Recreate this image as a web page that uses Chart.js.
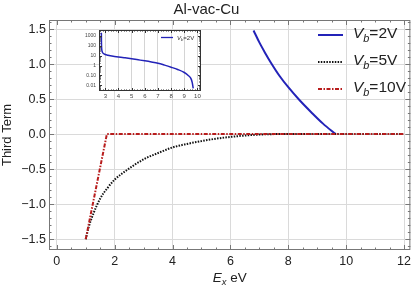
<!DOCTYPE html>
<html>
<head>
<meta charset="utf-8">
<script src="https://cdn.jsdelivr.net/npm/chart.js@4.4.1/dist/chart.umd.min.js"></script>
<style>
  html, body { margin: 0; padding: 0; background: #fff; }
  #wrap { position: relative; width: 415px; height: 291px; }
  #main { position: absolute; left: 0; top: 0; }
  #inset { position: absolute; left: 78px; top: 24px; }
</style>
</head>
<body>
<div id="wrap">
  <canvas id="main" width="415" height="291"></canvas>
  <canvas id="inset" width="128" height="78"></canvas>
</div>
<script>
// --- data ---
const energy2 = [6.8, 7.0, 7.2, 7.4, 7.7, 8.0, 8.4, 8.8, 9.2, 9.64];
const third2 = [1.48, 1.31, 1.16, 1.02, 0.83, 0.67, 0.48, 0.31, 0.15, 0];

const energy5 = [1, 1.1, 1.25, 1.5, 1.75, 2, 2.4, 3, 3.5, 4, 4.5, 5, 5.5, 6, 6.5, 7, 7.5, 12];
const third5 = [-1.5, -1.33, -1.15, -0.92, -0.77, -0.65, -0.52, -0.36, -0.27, -0.19, -0.14, -0.1, -0.065, -0.04, -0.02, -0.007, 0, 0];

const energy10 = [1, 1.73, 12];
const third10 = [-1.5, 0, 0];

// inset (log scale), Vb = 2V
const insetEnergy = [2.7, 2.705, 2.715, 2.73, 2.78, 2.9, 3.2, 3.6, 4, 4.5, 5, 5.5, 6, 6.5, 7, 7.5, 8, 8.5, 9, 9.3, 9.5, 9.6, 9.68];
const insetThird = [2100, 300, 80, 40, 22, 15, 11, 8.5, 7.4, 6, 4.8, 3.8, 3.0, 2.3, 1.7, 1.1, 0.68, 0.4, 0.2, 0.1, 0.05, 0.02, 0.005];

const seriesNames = ["=2V", "=5V", "=10V"];
const xTicks = [0, 2, 4, 6, 8, 10, 12];
const yTicks = [-1.5, -1.0, -0.5, 0, 0.5, 1.0, 1.5];
const insetXTicks = [3, 4, 5, 6, 7, 8, 9, 10];
const insetYTicks = [0.01, 0.1, 1, 10, 100, 1000];
const insetYLabels = ["0.01", "0.10", "1", "10", "100", "1000"];

const FONT = '"Liberation Sans", Arial, sans-serif';
const BLUE = "#2323b8";
const BLACK = "#111111";
const RED = "#b81c1c";
const TXT = "#222222";

const pts = (xs, ys) => xs.map((x, i) => ({ x: x, y: ys[i] }));

// draw "V_b" + rest
function drawVb(ctx, x, y, size, rest, color) {
  ctx.fillStyle = color || TXT;
  ctx.textAlign = "left";
  ctx.textBaseline = "alphabetic";
  ctx.font = "italic " + size + "px " + FONT;
  ctx.fillText("V", x, y);
  let w = ctx.measureText("V").width;
  ctx.font = "italic " + (size * 0.7) + "px " + FONT;
  ctx.fillText("b", x + w, y + size * 0.25);
  w += ctx.measureText("b").width;
  ctx.font = size + "px " + FONT;
  ctx.fillText(rest, x + w, y);
}

function frameTicks(ctx, chart, xs, ys, majorX, majorY, big, small, color) {
  const a = chart.chartArea;
  const sx = chart.scales.x, sy = chart.scales.y;
  ctx.save();
  ctx.strokeStyle = color;
  ctx.lineWidth = 1;
  ctx.strokeRect(a.left + 0.5, a.top + 0.5, a.right - a.left - 1, a.bottom - a.top - 1);
  ctx.beginPath();
  xs.forEach(v => {
    const p = Math.round(sx.getPixelForValue(v)) + 0.5;
    if (p < a.left || p > a.right) return;
    const L = majorX.some(m => Math.abs(m - v) < 1e-6) ? big : small;
    ctx.moveTo(p, a.bottom); ctx.lineTo(p, a.bottom - L);
    ctx.moveTo(p, a.top); ctx.lineTo(p, a.top + L);
  });
  ys.forEach(v => {
    const p = Math.round(sy.getPixelForValue(v)) + 0.5;
    if (p < a.top || p > a.bottom) return;
    const L = majorY.some(m => Math.abs(m - v) < 1e-9 * Math.max(1, Math.abs(m))) ? big : small;
    ctx.moveTo(a.left, p); ctx.lineTo(a.left + L, p);
    ctx.moveTo(a.right, p); ctx.lineTo(a.right - L, p);
  });
  ctx.stroke();
  ctx.restore();
}

// minor tick positions
const xMinor = [];
for (let v = -0.5; v <= 12.5; v += 0.5) xMinor.push(+v.toFixed(2));
const yMinor = [];
for (let v = -1.7; v <= 1.7; v += 0.1) yMinor.push(+v.toFixed(2));

const mainPlugin = {
  id: "mainDecor",
  afterDatasetsDraw(chart) {
    const ctx = chart.ctx;
    frameTicks(ctx, chart, xMinor, yMinor, xTicks, yTicks, 5, 2.5, "#777");

    // legend
    const styles = [
      { c: BLUE, d: [] },
      { c: BLACK, d: [1.5, 1.3] },
      { c: RED, d: [4, 1.5, 1.5, 1.5] },
    ];
    const rows = [35, 62, 89];
    ctx.save();
    seriesNames.forEach((name, i) => {
      ctx.strokeStyle = styles[i].c;
      ctx.lineWidth = 2;
      ctx.setLineDash(styles[i].d);
      ctx.beginPath();
      ctx.moveTo(318, rows[i]);
      ctx.lineTo(343, rows[i]);
      ctx.stroke();
      ctx.setLineDash([]);
      drawVb(ctx, 353, rows[i] + 3, 15.5, name);
    });

    // x axis title: E_x eV
    const size = 13.5;
    ctx.font = "italic " + size + "px " + FONT;
    const wE = ctx.measureText("E").width;
    ctx.font = "italic " + (size * 0.7) + "px " + FONT;
    const wx = ctx.measureText("x").width;
    ctx.font = size + "px " + FONT;
    const wr = ctx.measureText(" eV").width;
    const a = chart.chartArea;
    let x0 = (a.left + a.right) / 2 - (wE + wx + wr) / 2;
    const yb = 282;
    ctx.fillStyle = TXT;
    ctx.textAlign = "left";
    ctx.font = "italic " + size + "px " + FONT;
    ctx.fillText("E", x0, yb);
    ctx.font = "italic " + (size * 0.7) + "px " + FONT;
    ctx.fillText("x", x0 + wE, yb + size * 0.25);
    ctx.font = size + "px " + FONT;
    ctx.fillText(" eV", x0 + wE + wx, yb);
    ctx.restore();
  },
};

new Chart(document.getElementById("main").getContext("2d"), {
  type: "scatter",
  data: {
    datasets: [
      {
        label: "Vb=10V",
        data: pts(energy10, third10),
        showLine: true,
        borderColor: RED,
        borderWidth: 2,
        borderDash: [4, 1.5, 1.5, 1.5],
        pointRadius: 0,
        order: 0,
      },
      {
        label: "Vb=5V",
        data: pts(energy5, third5),
        showLine: true,
        borderColor: BLACK,
        borderWidth: 2,
        borderDash: [1.5, 1.3],
        pointRadius: 0,
        cubicInterpolationMode: "monotone",
        order: 1,
      },
      {
        label: "Vb=2V",
        data: pts(energy2, third2),
        showLine: true,
        borderColor: BLUE,
        borderWidth: 2,
        pointRadius: 0,
        cubicInterpolationMode: "monotone",
        order: 2,
      },
    ],
  },
  options: {
    responsive: false,
    animation: false,
    events: [],
    layout: { padding: { left: 0, right: 2, top: 0, bottom: 0 } },
    scales: {
      x: {
        type: "linear",
        min: -0.27,
        max: 12.22,
        afterBuildTicks: (s) => { s.ticks = xTicks.map(v => ({ value: v })); },
        afterFit: (s) => { s.height = 41; },
        ticks: {
          padding: 4,
          maxRotation: 0,
          color: TXT,
          font: { family: FONT, size: 12.5 },
          callback: (v) => String(v),
        },
        grid: { color: "#dadada", drawTicks: false },
        border: { display: false },
      },
      y: {
        type: "linear",
        min: -1.655,
        max: 1.63,
        afterBuildTicks: (s) => { s.ticks = yTicks.map(v => ({ value: v })); },
        afterFit: (s) => { s.width = 49; },
        ticks: {
          padding: 3,
          color: TXT,
          font: { family: FONT, size: 12.5 },
          callback: (v) => Number(v).toFixed(1).replace("-", "\u2212"),
        },
        grid: { color: "#dadada", drawTicks: false },
        border: { display: false },
        title: {
          display: true,
          text: "Third Term",
          color: TXT,
          font: { family: FONT, size: 13 },
          padding: { top: 0, bottom: 0 },
        },
      },
    },
    plugins: {
      legend: { display: false },
      tooltip: { enabled: false },
      title: {
        display: true,
        text: "Al-vac-Cu",
        color: TXT,
        font: { family: FONT, size: 15, weight: "normal" },
        padding: { top: 1, bottom: 1 },
      },
    },
  },
  plugins: [mainPlugin],
});

// ---------- inset ----------
const insetXMinor = [];
for (let v = 2.6; v <= 10.2; v += 0.2) insetXMinor.push(+v.toFixed(2));
const insetYMinor = [];
[0.001, 0.01, 0.1, 1, 10, 100, 1000].forEach(d => {
  for (let k = 1; k <= 9; k++) insetYMinor.push(+(d * k).toPrecision(3));
});

const insetPlugin = {
  id: "insetDecor",
  beforeDraw(chart) {
    const a = chart.chartArea;
    const ctx = chart.ctx;
    ctx.save();
    ctx.fillStyle = "#fff";
    ctx.fillRect(a.left, a.top, a.right - a.left, a.bottom - a.top);
    ctx.restore();
  },
  afterDatasetsDraw(chart) {
    const ctx = chart.ctx;
    frameTicks(ctx, chart, insetXMinor, insetYMinor, insetXTicks, insetYTicks, 3, 1.5, "#333");
    ctx.save();
    ctx.strokeStyle = BLUE;
    ctx.lineWidth = 1.3;
    ctx.beginPath();
    ctx.moveTo(83, 13.5);
    ctx.lineTo(95, 13.5);
    ctx.stroke();
    drawVb(ctx, 99, 15.5, 6, "=2V", "#333");
    ctx.restore();
  },
};

new Chart(document.getElementById("inset").getContext("2d"), {
  type: "scatter",
  data: {
    datasets: [
      {
        label: "Vb=2V",
        data: pts(insetEnergy, insetThird),
        showLine: true,
        borderColor: BLUE,
        borderWidth: 1.5,
        pointRadius: 0,
        cubicInterpolationMode: "monotone",
      },
    ],
  },
  options: {
    responsive: false,
    animation: false,
    events: [],
    layout: { padding: { left: 0, right: 5, top: 4, bottom: 0 } },
    scales: {
      x: {
        type: "linear",
        min: 2.52,
        max: 10.27,
        afterBuildTicks: (s) => { s.ticks = insetXTicks.map(v => ({ value: v })); },
        afterFit: (s) => { s.height = 11; },
        ticks: {
          padding: 2,
          maxRotation: 0,
          color: "#444",
          font: { family: FONT, size: 6 },
          callback: (v) => String(v),
        },
        grid: { color: "#d4d4d4", drawTicks: false },
        border: { display: false },
      },
      y: {
        type: "logarithmic",
        min: 0.0027,
        max: 3900,
        afterBuildTicks: (s) => { s.ticks = insetYTicks.map(v => ({ value: v })); },
        afterFit: (s) => { s.width = 21; },
        ticks: {
          padding: 3,
          color: "#444",
          font: { family: FONT, size: 5 },
          callback: (v) => {
            const i = insetYTicks.findIndex(t => Math.abs(t - v) / t < 1e-6);
            return i >= 0 ? insetYLabels[i] : "";
          },
        },
        grid: { display: false, drawTicks: false },
        border: { display: false },
      },
    },
    plugins: {
      legend: { display: false },
      tooltip: { enabled: false },
    },
  },
  plugins: [insetPlugin],
});
</script>
</body>
</html>
